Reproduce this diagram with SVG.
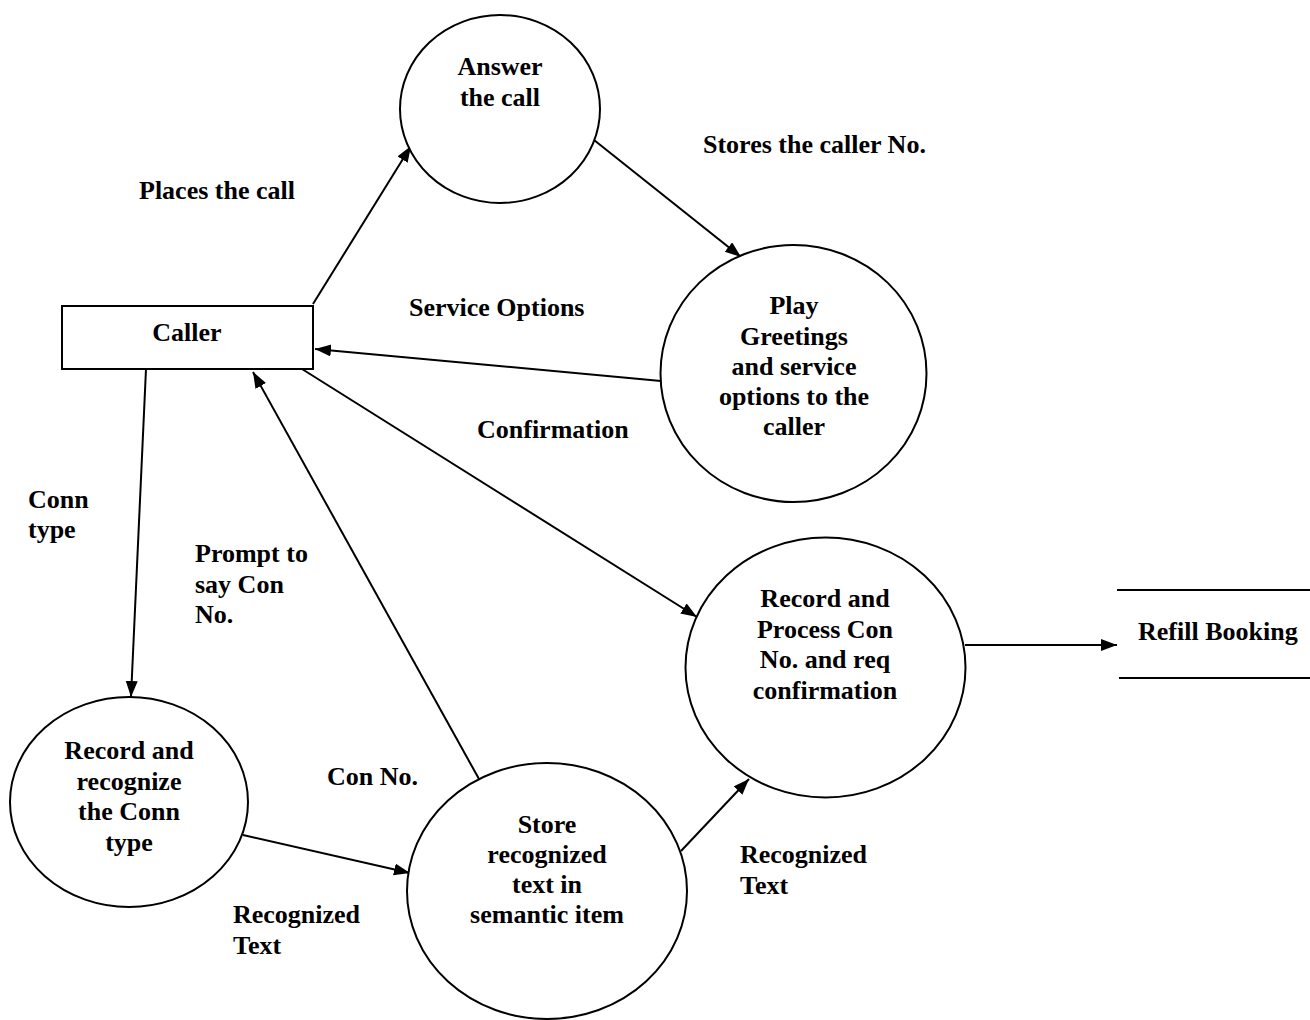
<svg xmlns="http://www.w3.org/2000/svg" width="1310" height="1020" viewBox="0 0 1310 1020">
<style>
.n{fill:#fff;stroke:#000;stroke-width:2}
.t{font-family:"Liberation Serif","Times New Roman",serif;font-weight:bold;font-size:26px;fill:#000}
.c{text-anchor:middle}
.e{stroke:#000;stroke-width:2;fill:none;marker-end:url(#ah)}
</style>
<defs>
<marker id="ah" markerUnits="userSpaceOnUse" markerWidth="17" markerHeight="13" refX="16" refY="6" orient="auto">
<path d="M0,0 L16,6 L0,12 z" fill="#000"/>
</marker>
</defs>
<rect width="1310" height="1020" fill="#fff"/>
<g id="connectors">
<line class="e" x1="313" y1="304" x2="411" y2="146"/>
<line class="e" x1="594" y1="140" x2="741" y2="257"/>
<line class="e" x1="661" y1="381" x2="315" y2="349"/>
<line class="e" x1="302" y1="369" x2="697" y2="617"/>
<line class="e" x1="146" y1="369" x2="131" y2="697"/>
<line class="e" x1="479" y1="779" x2="253" y2="372"/>
<line class="e" x1="243" y1="835" x2="410" y2="873"/>
<line class="e" x1="681" y1="851" x2="749" y2="779"/>
<line class="e" x1="965" y1="645" x2="1117" y2="645"/>
</g>
<g id="labels" class="t">
<text x="139" y="199">Places the call</text>
<text x="703" y="153">Stores the caller No.</text>
<text x="409" y="316">Service Options</text>
<text x="477" y="438">Confirmation</text>
<text x="28" y="508">Conn</text>
<text x="28" y="538">type</text>
<text x="195" y="562">Prompt to</text>
<text x="195" y="593">say Con</text>
<text x="195" y="623">No.</text>
<text x="327" y="785">Con No.</text>
<text x="233" y="923">Recognized</text>
<text x="233" y="954">Text</text>
<text x="740" y="863">Recognized</text>
<text x="740" y="894">Text</text>
</g>
<g id="caller">
<rect class="n" x="62" y="306" width="251" height="63" stroke-width="2.5"/>
<text class="t c" x="187" y="341">Caller</text>
</g>
<g id="answer">
<ellipse class="n" cx="500" cy="109" rx="100" ry="94"/>
<text class="t c" x="500" y="75">Answer</text>
<text class="t c" x="500" y="106">the call</text>
</g>
<g id="play">
<ellipse class="n" cx="793.5" cy="373.5" rx="133" ry="128.5"/>
<text class="t c" x="794" y="314">Play</text>
<text class="t c" x="794" y="345">Greetings</text>
<text class="t c" x="794" y="375">and service</text>
<text class="t c" x="794" y="405">options to the</text>
<text class="t c" x="794" y="435">caller</text>
</g>
<g id="process">
<ellipse class="n" cx="825.5" cy="667.5" rx="140" ry="130"/>
<text class="t c" x="825" y="607">Record and</text>
<text class="t c" x="825" y="638">Process Con</text>
<text class="t c" x="825" y="668">No. and req</text>
<text class="t c" x="825" y="699">confirmation</text>
</g>
<g id="recognize">
<ellipse class="n" cx="129" cy="802" rx="119" ry="105"/>
<text class="t c" x="129" y="759">Record and</text>
<text class="t c" x="129" y="790">recognize</text>
<text class="t c" x="129" y="820">the Conn</text>
<text class="t c" x="129" y="851">type</text>
</g>
<g id="store">
<ellipse class="n" cx="547" cy="891" rx="140" ry="128"/>
<text class="t c" x="547" y="833">Store</text>
<text class="t c" x="547" y="863">recognized</text>
<text class="t c" x="547" y="893">text in</text>
<text class="t c" x="547" y="923">semantic item</text>
</g>
<g id="refill">
<line x1="1117" y1="590" x2="1310" y2="590" stroke="#000" stroke-width="2"/>
<line x1="1119" y1="678" x2="1310" y2="678" stroke="#000" stroke-width="2"/>
<text class="t" x="1138" y="640">Refill Booking</text>
</g>
</svg>
